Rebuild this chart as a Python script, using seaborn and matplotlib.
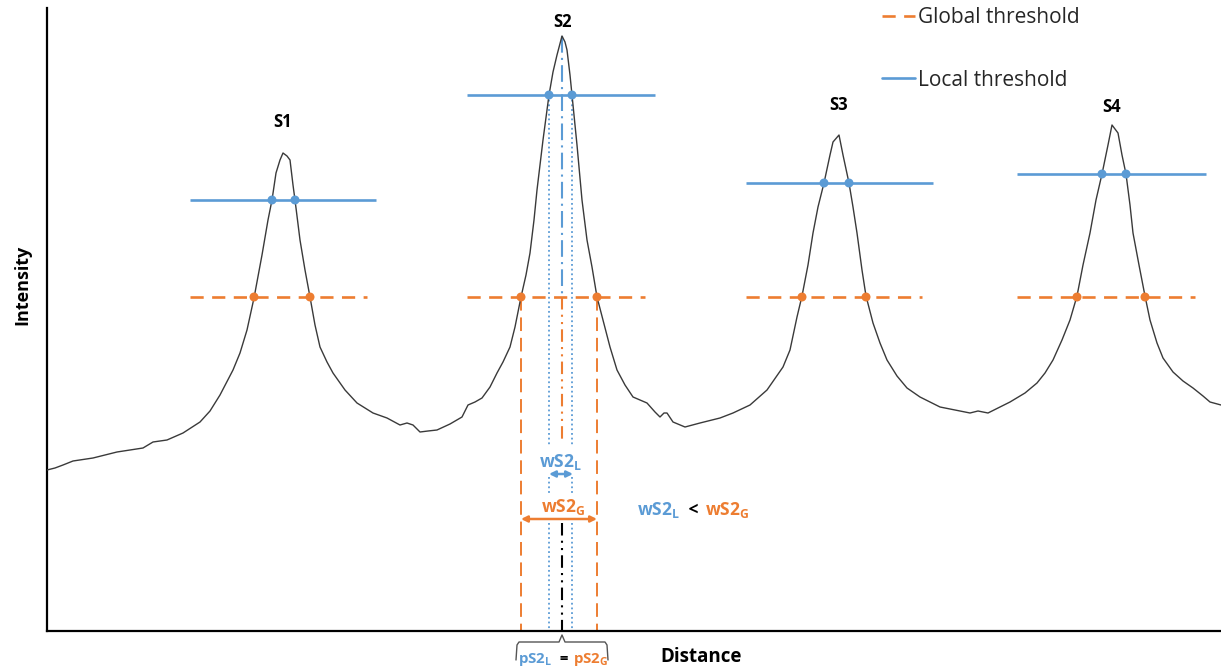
"""Schematic of peak widths under a global vs. a local intensity threshold."""

import matplotlib

matplotlib.use("Agg")
import matplotlib.pyplot as plt
import seaborn as sns
from matplotlib.lines import Line2D

BLUE = "#5B9BD5"
ORANGE = "#ED7D31"
CURVE = "#3a3a3a"

# intensity profile (arbitrary units)
DIST = [0, 8, 16, 26, 46, 70, 96, 106, 120, 136, 153, 163, 173, 186, 193, 200,
        207, 215, 221, 225, 229, 233, 236, 240, 243, 246, 248, 253, 258, 263,
        268, 273, 280, 286, 298, 310, 326, 340, 353, 360, 366, 373, 381, 390,
        403, 415, 421, 428, 435, 443, 450, 456, 463, 468, 474, 479, 483, 487,
        490, 496, 502, 506, 510, 515, 518, 520, 523, 525, 530, 535, 540, 545,
        550, 556, 563, 570, 578, 586, 600, 608, 613, 617, 620, 626, 638, 653,
        673, 686, 703, 720, 736, 743, 750, 755, 761, 766, 771, 777, 783, 786,
        792, 796, 802, 806, 810, 815, 819, 826, 833, 840, 850, 860, 873, 893,
        908, 923, 931, 941, 953, 963, 978, 990, 998, 1006, 1015, 1023, 1030,
        1036, 1043, 1049, 1055, 1061, 1065, 1071, 1075, 1079, 1083, 1086, 1092,
        1098, 1103, 1110, 1116, 1126, 1136, 1146, 1156, 1163, 1174]
INTENSITY = [161, 163, 166, 170, 173, 179, 183, 189, 191, 198, 209, 220, 236,
             261, 278, 301, 333, 376, 411, 431, 458, 471, 478, 475, 471, 446,
             431, 391, 361, 334, 306, 284, 269, 258, 241, 228, 218, 213, 206,
             208, 206, 199, 200, 201, 207, 214, 226, 229, 233, 244, 258, 269,
             284, 304, 334, 356, 378, 411, 441, 491, 536, 559, 576, 595, 589,
             581, 556, 536, 486, 431, 391, 364, 334, 311, 284, 261, 246, 234,
             228, 219, 214, 218, 218, 209, 204, 208, 213, 218, 226, 241, 264,
             281, 314, 335, 366, 398, 424, 448, 476, 489, 496, 476, 448, 424,
             398, 361, 335, 308, 288, 271, 255, 243, 234, 224, 221, 218, 220,
             218, 224, 229, 238, 248, 258, 271, 291, 311, 335, 366, 398, 431,
             457, 486, 506, 498, 476, 457, 426, 398, 366, 335, 311, 288, 273,
             259, 250, 243, 235, 229, 226]

PEAKS = ["S1", "S2", "S3", "S4"]
PEAK_POS = [236, 515, 792, 1065]
PEAK_TOP = [478, 595, 496, 506]
LABEL_Y = [509, 609, 526, 524]

GLOBAL_LEVEL = 334
GLOBAL_SPAN = [(143, 320), (420, 598), (699, 875), (970, 1148)]
GLOBAL_CROSS = [(207, 263), (474, 550), (755, 819), (1030, 1098)]

LOCAL_LEVEL = [431, 536, 448, 457]
LOCAL_SPAN = [(143, 329), (420, 608), (699, 886), (970, 1159)]
LOCAL_CROSS = [(225, 248), (502, 525), (777, 802), (1055, 1079)]


def rich_text(ax, x, y, parts, size, ha="left"):
    """Bold text made of differently coloured pieces on one baseline."""
    renderer = ax.figure.canvas.get_renderer()
    texts, widths = [], []
    for s, c in parts:
        t = ax.text(0, y, s, color=c, fontsize=size, fontweight="bold",
                    va="baseline", ha="left", clip_on=False)
        texts.append(t)
        widths.append(t.get_window_extent(renderer).width)
    px_per_unit = ax.transData.transform((1, 0))[0] - ax.transData.transform((0, 0))[0]
    start = x - sum(widths) / px_per_unit / 2 if ha == "center" else x
    for t, w in zip(texts, widths):
        t.set_x(start)
        start += w / px_per_unit


sns.set_theme(style="white")
plt.rcParams["font.family"] = ["Open Sans", "DejaVu Sans"]
plt.rcParams["mathtext.fontset"] = "custom"
plt.rcParams["mathtext.bf"] = "Open Sans:bold"
plt.rcParams["mathtext.rm"] = "Open Sans"

fig = plt.figure(figsize=(12.21, 6.69), dpi=100)
ax = fig.add_axes([47 / 1221, 38 / 669, 1174 / 1221, 623 / 669])

sns.lineplot(x=DIST, y=INTENSITY, color=CURVE, lw=1.0, sort=False,
             estimator=None, ax=ax, zorder=3)

# thresholds per peak
for i in range(len(PEAKS)):
    ax.plot(LOCAL_SPAN[i], [LOCAL_LEVEL[i]] * 2, color=BLUE, lw=1.9,
            solid_capstyle="butt", zorder=2)
    ax.plot(GLOBAL_SPAN[i], [GLOBAL_LEVEL] * 2, color=ORANGE, lw=1.9,
            dashes=(5, 3.2), zorder=2)
    ax.text(PEAK_POS[i], LABEL_Y[i], PEAKS[i], ha="center", va="center",
            fontsize=12, fontweight="bold", color="black")

lx = [x for pair in LOCAL_CROSS for x in pair]
ly = [lvl for lvl in LOCAL_LEVEL for _ in range(2)]
gx = [x for pair in GLOBAL_CROSS for x in pair]
gy = [GLOBAL_LEVEL] * len(gx)
sns.scatterplot(x=lx, y=ly, color=BLUE, s=42, edgecolor="none", ax=ax, zorder=5)
sns.scatterplot(x=gx, y=gy, color=ORANGE, s=42, edgecolor="none", ax=ax, zorder=5)

# S2 width / position construction
pk = PEAK_POS[1]
gl, gr = GLOBAL_CROSS[1]
ll, lr = LOCAL_CROSS[1]
for x in (gl, gr):
    ax.plot([x, x], [GLOBAL_LEVEL, 0], color=ORANGE, lw=1.4, dashes=(7, 3.5), zorder=1)
for x in (ll, lr):
    for y0, y1 in [(LOCAL_LEVEL[1], 184), (154, 136), (108, 0)]:
        ax.plot([x, x], [y0, y1], color=BLUE, lw=1.3, dashes=(1, 1.6), zorder=1)
ax.plot([pk, pk], [PEAK_TOP[1], GLOBAL_LEVEL], color=BLUE, lw=1.5,
        dashes=(8, 2.5, 1, 2.5), zorder=1)
ax.plot([pk, pk], [GLOBAL_LEVEL, 189], color=ORANGE, lw=1.5,
        dashes=(6, 2.5, 1, 2.5, 1, 2.5), zorder=1)
ax.plot([pk, pk], [108, 0], color="black", lw=1.5,
        dashes=(6, 2.5, 1, 2.5, 1, 2.5), zorder=1)

arrow = dict(arrowstyle="<|-|>", lw=1.8, mutation_scale=9, shrinkA=0, shrinkB=0)
ax.annotate("", xy=(lr + 1, 157), xytext=(ll, 157), arrowprops=dict(arrow, color=BLUE))
ax.annotate("", xy=(gr, 112), xytext=(gl, 112), arrowprops=dict(arrow, color=ORANGE))

rich_text(ax, pk + 1, 164, [(r"$\mathbf{wS2_L}$", BLUE)], 12.5, ha="center")
rich_text(ax, pk + 3, 119, [(r"$\mathbf{wS2_G}$", ORANGE)], 12.5, ha="center")
rich_text(ax, 590, 116, [(r"$\mathbf{wS2_L}$", BLUE), (" < ", "black"),
                         (r"$\mathbf{wS2_G}$", ORANGE)], 12.5)

# brace under the axis pointing at the common peak position
bx = [pk - 46, pk - 45, pk - 43, pk - 3, pk, pk + 3, pk + 43, pk + 45, pk + 46]
by = [-29, -14, -11, -11, -4, -11, -11, -14, -29]
ax.plot(bx, by, color="#555555", lw=1.0, clip_on=False)
rich_text(ax, pk - 44, -32, [(r"$\mathbf{pS2_L}$", BLUE), (" = ", "black"),
                             (r"$\mathbf{pS2_G}$", ORANGE)], 10.8)

# legend
handles = [Line2D([], [], color=ORANGE, lw=1.9, dashes=(5, 3.2)),
           Line2D([], [], color=BLUE, lw=1.9)]
ax.legend(handles, ["Global threshold", "Local threshold"], loc="upper left",
          bbox_to_anchor=(882 / 1221, 1 - 7 / 669), bbox_transform=fig.transFigure,
          frameon=False, fontsize=15, handlelength=1.6, handletextpad=0.15,
          labelspacing=2.0, borderpad=0, borderaxespad=0)

ax.set_xlim(0, 1174)
ax.set_ylim(0, 623)
ax.set_xticks([])
ax.set_yticks([])
for side in ("top", "right"):
    ax.spines[side].set_visible(False)
for side in ("left", "bottom"):
    ax.spines[side].set_color("black")
    ax.spines[side].set_linewidth(1.6)

ax.set_ylabel("Intensity", fontsize=13, fontweight="bold", color="black")
ax.yaxis.set_label_coords(-0.013, 0.555)
ax.set_xlabel("Distance", fontsize=13.5, fontweight="bold", color="black", va="top")
ax.xaxis.set_label_coords(0.557, -0.026)

fig.savefig("out.png", dpi=100)
